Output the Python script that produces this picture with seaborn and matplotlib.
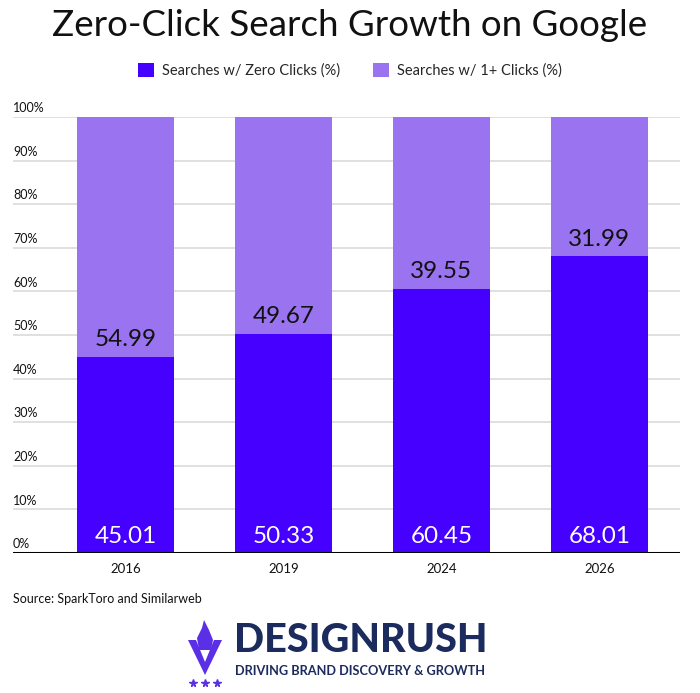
import matplotlib
matplotlib.use("Agg")
import matplotlib.pyplot as plt
import seaborn as sns
import pandas as pd
from matplotlib.patches import Patch, Polygon
from matplotlib.lines import Line2D

years = ["2016", "2019", "2024", "2026"]
zero_clicks = [45.01, 50.33, 60.45, 68.01]
one_plus_clicks = [54.99, 49.67, 39.55, 31.99]
y_ticks = [0, 10, 20, 30, 40, 50, 60, 70, 80, 90, 100]
y_tick_labels = [f"{t}%" for t in y_ticks]

DARK = "#4500FF"
LIGHT = "#9A73F0"
FONT = "Lato"

sns.set_theme(style="white")
plt.rcParams['font.family'] = [FONT, 'DejaVu Sans']

df = pd.DataFrame({
    "year": years,
    "zero": zero_clicks,
    "one": one_plus_clicks,
})
df["total"] = df["zero"] + df["one"]

fig = plt.figure(figsize=(7, 6.93), dpi=100)
ax = fig.add_axes([13/700, 1-553/693, (680-13)/700, (553-117)/693])

# gridlines
for t in y_ticks[1:]:
    ax.axhline(t, color="#E0E0E0", lw=1.4, zorder=0)

sns.barplot(data=df, x="year", y="total", color=LIGHT, width=0.614,
            saturation=1, ax=ax, zorder=2, linewidth=0, edgecolor="none")
sns.barplot(data=df, x="year", y="zero", color=DARK, width=0.614,
            saturation=1, ax=ax, zorder=3, linewidth=0, edgecolor="none")

ax.axhline(0, color="black", lw=2.2, zorder=5)
ax.set_xlim(-0.712, 3.51)
ax.set_ylim(0, 100)
ax.set_xlabel("")
ax.set_ylabel("")
ax.set_yticks([])
for s in ax.spines.values():
    s.set_visible(False)
ax.tick_params(axis="x", length=0, pad=7, labelsize=9.5, labelcolor="#111111")

# y tick labels placed above gridlines, left aligned
for t, lab in zip(y_ticks, y_tick_labels):
    ax.annotate(lab, xy=(0, t), xycoords=("axes fraction", "data"),
                xytext=(0, 2), textcoords="offset points",
                ha="left", va="bottom", fontsize=9, color="#111111")

# value labels
for i, (z, o) in enumerate(zip(zero_clicks, one_plus_clicks)):
    ax.annotate(f"{z:.2f}", xy=(i, 0), xytext=(0, 4), textcoords="offset points",
                ha="center", va="bottom", fontsize=17.5, color="white", zorder=6)
    ax.annotate(f"{o:.2f}", xy=(i, z), xytext=(0, 5), textcoords="offset points",
                ha="center", va="bottom", fontsize=17.5, color="#111111", zorder=6)

# title
fig.text(0.5, 1-25/693, "Zero-Click Search Growth on Google", ha="center", va="center",
         fontsize=26.5, color="#111111")

# legend
handles = [Patch(facecolor=DARK, edgecolor="none", label="Searches w/ Zero Clicks (%)"),
           Patch(facecolor=LIGHT, edgecolor="none", label="Searches w/ 1+ Clicks (%)")]
fig.legend(handles=handles, loc="center", bbox_to_anchor=(0.5, 1-70/693), ncol=2,
           frameon=False, fontsize=10.5, handlelength=1.1, handleheight=1.1,
           handletextpad=0.6, columnspacing=2.2)

# source
fig.text(13/700, 1-599/693, "Source: SparkToro and Similarweb", ha="left", va="center",
         fontsize=9, color="#111111")

# logo
NAVY = "#1C2B5E"
PURP = "#5A2FE6"
fig.text(234/700, 1-641/693, "DESIGNRUSH", ha="left", va="center", fontsize=28.5,
         fontweight="black", color=NAVY)
fig.text(235/700, 1-671/693, "DRIVING BRAND DISCOVERY & GROWTH", ha="left", va="center",
         fontsize=9.2, fontweight="bold", color=NAVY)

def fx(x):
    return x/700
def fy(y):
    return 1-y/693

v = Polygon([(fx(188), fy(640)), (fx(196), fy(640)), (fx(205), fy(662)),
             (fx(214), fy(640)), (fx(222), fy(640)), (fx(205), fy(675))],
            closed=True, transform=fig.transFigure, facecolor=PURP, edgecolor="none")
fig.patches.append(v)
flame = Polygon([(fx(199), fy(650)), (fx(197), fy(638)), (fx(202), fy(628)),
                 (fx(204), fy(620)), (fx(209), fy(630)), (fx(213), fy(640)),
                 (fx(211), fy(650))],
                closed=True, transform=fig.transFigure, facecolor=PURP, edgecolor="none")
fig.patches.append(flame)
for sx in [193, 205, 217]:
    fig.lines.append(Line2D([fx(sx)], [fy(683)], marker="*", markersize=5.5,
                            color=PURP, transform=fig.transFigure))

fig.savefig("out.png", dpi=100)
